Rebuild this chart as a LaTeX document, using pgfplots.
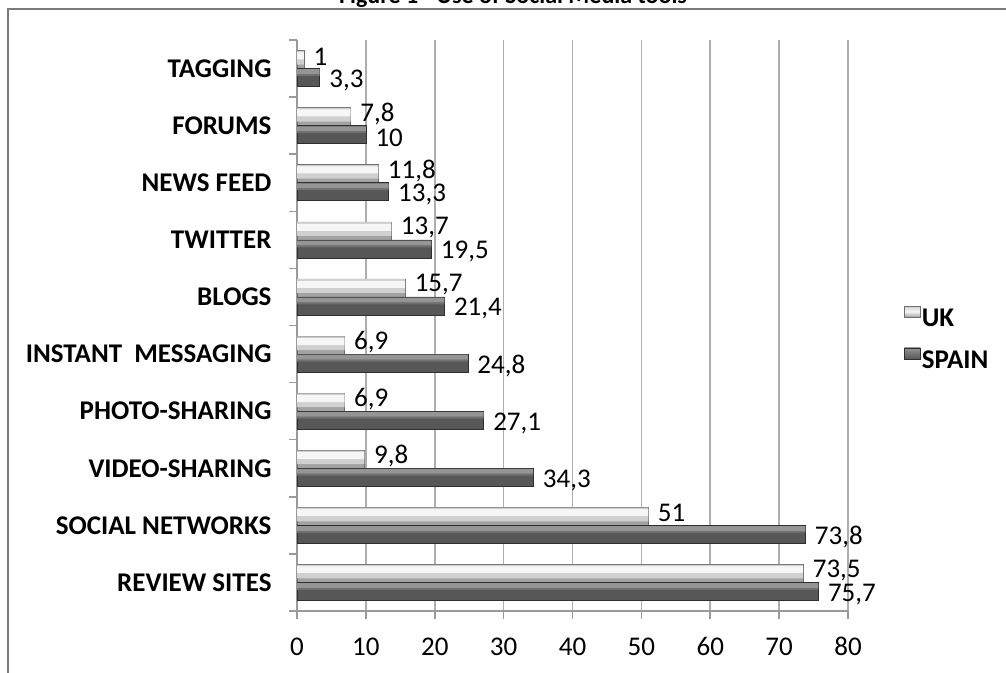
\documentclass[border=0pt]{standalone}
\usepackage{fontspec}
\setmainfont{Carlito}
\usepackage{pgfplots}
\usepackage{pgfplotstable}
\pgfplotsset{compat=1.18}

\definecolor{ukBase}{HTML}{A2A2A2}
\definecolor{ukLight}{HTML}{D0D0D0}
\definecolor{ukHi}{HTML}{F6F6F6}
\definecolor{ukEdge}{HTML}{6E6E6E}
\definecolor{spBase}{HTML}{575757}
\definecolor{spMid}{HTML}{707070}
\definecolor{spLight}{HTML}{959595}
\definecolor{spEdge}{HTML}{2E2E2E}
\definecolor{axgray}{HTML}{9A9A9A}

% 0 = REVIEW SITES (bottom) ... 9 = TAGGING (top)
\pgfplotstableread{
y uk spain
0 73.5 75.7
1 51 73.8
2 9.8 34.3
3 6.9 27.1
4 6.9 24.8
5 15.7 21.4
6 13.7 19.5
7 11.8 13.3
8 7.8 10
9 1 3.3
}\socialdata

\begin{document}
\begin{tikzpicture}
\useasboundingbox (0pt,0pt) rectangle (1006pt,672pt);

% outer chart frame and (clipped) title
\draw[axgray!80!black, line width=1.5pt] (8pt,-20pt) -- (8pt,663pt) -- (1030pt,663pt);
\node[font=\bfseries\fontsize{24}{28}\selectfont, anchor=base] at (513pt,668pt) {Figure 1 - Use of Social Media tools};

\begin{axis}[
    scale only axis,
    width=551pt, height=571pt,
    at={(297pt,61pt)}, anchor=south west,
    xbar,
    xmin=0, xmax=80,
    ymin=-0.5, ymax=9.5,
    axis x line*=bottom,
    axis y line*=left,
    axis line style={axgray, line width=1.5pt},
    xtick={0,10,...,80},
    ytick={-0.5,0.5,...,9.5},
    yticklabels={REVIEW SITES, SOCIAL NETWORKS, VIDEO-SHARING, PHOTO-SHARING,
        INSTANT\ \ MESSAGING, BLOGS, TWITTER, NEWS FEED, FORUMS, TAGGING, {}},
    yticklabel style={yshift=28.5pt, xshift=-14pt, font=\bfseries\fontsize{27}{30}\selectfont},
    xticklabel style={yshift=-15pt, font=\fontsize{27}{30}\selectfont},
    tick align=outside,
    major tick length=8pt,
    tick style={axgray, line width=1.5pt},
    xmajorgrids,
    grid style={axgray!80, line width=1.5pt},
    /pgf/number format/.cd, use comma, 1000 sep={}, assume math mode=true,
    /pgfplots/.cd,
    point meta=x,
    every node near coord/.append style={font=\fontsize{27}{30}\selectfont, black, anchor=west},
    legend style={at={(1.1016,0.4746)}, anchor=west, draw=none, fill=none,
        inner sep=0pt, row sep=15pt,
        font=\bfseries\fontsize{27}{30}\selectfont,
        nodes={inner sep=1pt, text height=18pt, text depth=5pt},
        /tikz/every even column/.append style={column sep=4pt}},
    legend cell align=left,
]
% UK: base bar plus light bands for the bevelled look
\addplot[bar shift=9pt, bar width=18pt, fill=ukBase, draw=ukEdge, line width=0.6pt,
    nodes near coords,
    every node near coord/.append style={xshift=6pt, yshift=3pt},
    legend image code/.code={\draw[draw=ukEdge, line width=0.6pt, top color=ukLight, bottom color=ukBase, middle color=ukHi] (0pt,3pt) rectangle (16pt,14pt);}]
    table[x=uk, y=y] {\socialdata};
\addlegendentry{UK}
\addplot[forget plot, bar shift=6.5pt, bar width=5pt, fill=ukLight, draw=none]
    table[x=uk, y=y] {\socialdata};
\addplot[forget plot, bar shift=12.75pt, bar width=7.5pt, fill=ukHi, draw=none]
    table[x=uk, y=y] {\socialdata};
\addplot[forget plot, bar shift=17pt, bar width=1.4pt, fill=ukLight, draw=none]
    table[x=uk, y=y] {\socialdata};
% SPAIN
\addplot[bar shift=-9pt, bar width=18pt, fill=spBase, draw=spEdge, line width=0.6pt,
    nodes near coords,
    every node near coord/.append style={xshift=6pt, yshift=-3pt},
    legend image code/.code={\draw[draw=spEdge, line width=0.6pt, top color=spLight, bottom color=spBase] (0pt,3pt) rectangle (16pt,14pt);}]
    table[x=spain, y=y] {\socialdata};
\addlegendentry{SPAIN}
\addplot[forget plot, bar shift=-6.5pt, bar width=2pt, fill=spMid, draw=none]
    table[x=spain, y=y] {\socialdata};
\addplot[forget plot, bar shift=-3.1pt, bar width=4.8pt, fill=spLight, draw=none]
    table[x=spain, y=y] {\socialdata};
\end{axis}
\end{tikzpicture}
\end{document}
